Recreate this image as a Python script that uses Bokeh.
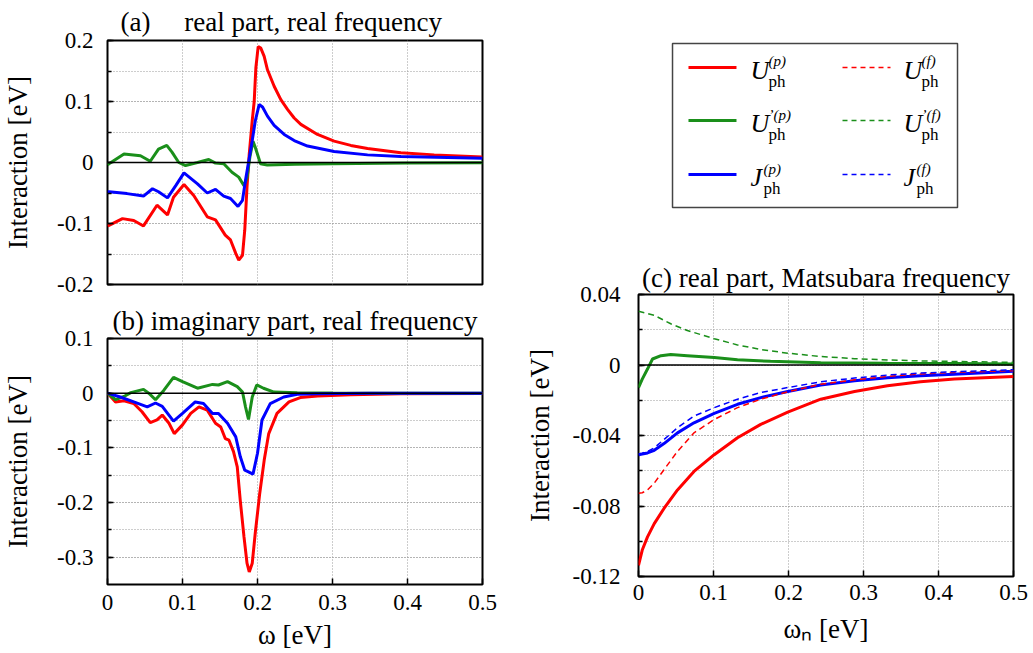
from bokeh.plotting import figure
from bokeh.layouts import row, column
from bokeh.models import (Span, Title, SingleIntervalTicker,
                          CustomJSTickFormatter, Range1d)
from bokeh.embed import file_html
from bokeh.resources import INLINE
from bokeh.core.properties import value

FONT = "Liberation Serif"
RED, GREEN, BLUE = "#ff0000", "#1a8f1a", "#0000ff"

# ---------------- panel (a): real part, real frequency ----------------
a_U_x = [0, .002, .020, .035, .048, .066, .080, .088, .102, .115, .133, .144, .157, .164,
         .171, .175, .180, .183, .186, .189, .193, .1956, .1978, .2009, .2044, .2089, .2133,
         .2222, .2311, .24, .2489, .2578, .28, .3022, .3244, .3467, .3911, .4356, .5]
a_U_y = [-0.104, -0.103, -0.092, -0.095, -0.104, -0.070, -0.086, -0.057, -0.036, -0.054,
         -0.089, -0.094, -0.119, -0.127, -0.149, -0.160, -0.152, -0.111, -0.040, 0.014, 0.069,
         0.10, 0.155, 0.190, 0.1875, 0.174, 0.152, 0.125, 0.103, 0.087, 0.073, 0.0625, 0.046,
         0.035, 0.028, 0.023, 0.016, 0.0125, 0.0092]

a_Up_x = [0, .002, .022, .044, .057, .068, .079, .086, .095, .104, .120, .135, .144, .155,
          .166, .175, .182, .186, .190, .194, .197, .204, .213, .25, .3, .4, .5]
a_Up_y = [-0.004, -0.002, 0.014, 0.011, 0.002, 0.022, 0.028, 0.017, 0.0, -0.005, 0.0, 0.005,
          -0.001, -0.002, -0.016, -0.024, -0.038, -0.025, 0.010, 0.035, 0.025, -0.002, -0.004,
          -0.003, -0.002, -0.001, -0.0005]

a_J_x = [0, .002, .026, .048, .060, .068, .080, .091, .102, .120, .133, .144, .155, .164,
         .174, .180, .184, .188, .193, .197, .2022, .2067, .2133, .2222, .2356, .2489, .2667,
         .3022, .3467, .3911, .5]
a_J_y = [-0.048, -0.048, -0.051, -0.055, -0.043, -0.048, -0.058, -0.038, -0.017, -0.035,
         -0.050, -0.044, -0.055, -0.059, -0.072, -0.062, -0.029, 0.0, 0.036, 0.068, 0.095,
         0.091, 0.076, 0.061, 0.046, 0.036, 0.027, 0.018, 0.0125, 0.0098, 0.007]

# ---------------- panel (b): imaginary part, real frequency ----------------
b_U_x = [0, .0107, .022, .035, .046, .057, .066, .073, .082, .089, .1, .111, .122, .133,
         .144, .151, .157, .162, .168, .173, .177, .182, .186, .189, .193, .197, .203, .209,
         .215, .226, .242, .257, .28, .3244, .3911, .5]
b_U_y = [0, -0.016, -0.014, -0.019, -0.034, -0.054, -0.049, -0.040, -0.055, -0.074, -0.058,
         -0.037, -0.025, -0.031, -0.055, -0.062, -0.083, -0.086, -0.107, -0.135, -0.196,
         -0.263, -0.311, -0.327, -0.311, -0.256, -0.183, -0.122, -0.074, -0.037, -0.016,
         -0.008, -0.005, -0.003, -0.001, -0.0005]

b_Up_x = [0, .011, .022, .031, .048, .055, .064, .075, .088, .1, .12, .14, .148, .16, .173,
          .180, .184, .188, .193, .199, .208, .222, .253, .3, .5]
b_Up_y = [0, -0.012, -0.006, 0.001, 0.007, 0.0, -0.012, 0.005, 0.029, 0.021, 0.009, 0.016,
          0.015, 0.021, 0.012, 0.002, -0.025, -0.048, -0.007, 0.015, 0.009, 0.002, 0.0007,
          0.0002, 0.0]

b_J_x = [0, .017, .035, .053, .064, .073, .088, .1, .117, .128, .140, .148, .160, .171, .177,
         .183, .188, .194, .200, .206, .217, .235, .253, .28, .35, .5]
b_J_y = [0, -0.007, -0.016, -0.025, -0.018, -0.024, -0.051, -0.037, -0.016, -0.019, -0.037,
         -0.037, -0.055, -0.080, -0.116, -0.141, -0.144, -0.148, -0.110, -0.049, -0.019,
         -0.007, -0.002, -0.001, -0.0003, 0.0]

# ---------------- panel (c): real part, Matsubara frequency ----------------
c_x = [0, .005, .012, .021, .034, .052, .074, .101, .132, .163, .199, .243, .288, .332,
       .376, .421, .5]
c_Up_solid = [-0.1137, -0.105, -0.0975, -0.090, -0.0814, -0.0709, -0.0604, -0.0509, -0.0413,
              -0.0337, -0.0267, -0.0194, -0.0150, -0.0118, -0.0095, -0.0080, -0.0065]
c_Jp_solid = [-0.0509, -0.0505, -0.0499, -0.0484, -0.0446, -0.0385, -0.0328, -0.0274,
              -0.0223, -0.0185, -0.0150, -0.0114, -0.0090, -0.0072, -0.0061, -0.0052, -0.0036]
c_Uf_dash = [-0.0728, -0.0725, -0.0709, -0.0670, -0.0594, -0.0490, -0.0385, -0.0309, -0.0242,
             -0.0194, -0.0152, -0.0109, -0.0084, -0.0065, -0.0051, -0.0042, -0.0032]
c_Jf_dash = [-0.0505, -0.0500, -0.0490, -0.0470, -0.0423, -0.0356, -0.0290, -0.0242, -0.0194,
             -0.0156, -0.0128, -0.0095, -0.0074, -0.0057, -0.0046, -0.0038, -0.0027]

c_g_x = [0, .005, .012, .0187, .030, .043, .065, .101, .132, .176, .243, .332, .421, .5]
c_Upp_solid = [-0.0128, -0.0080, -0.0023, 0.0034, 0.0053, 0.0059, 0.0053, 0.0042, 0.0030,
               0.0021, 0.0013, 0.0010, 0.0008, 0.0006]
c_gd_x = [0, .021, .043, .065, .101, .132, .163, .199, .243, .288, .332, .376, .5]
c_Upf_dash = [0.0305, 0.0282, 0.0234, 0.0196, 0.0149, 0.0114, 0.0088, 0.0067, 0.0048, 0.0036,
              0.0029, 0.0023, 0.0015]

# legend texts
leg_main = ["U", "U", "J"]
leg_sup_p = ["(p)", "\u2019(p)", "(p)"]
leg_sup_f = ["(f)", "\u2019(f)", "(f)"]
leg_colors = [RED, GREEN, BLUE]

fmt_code = "return String(Number(tick.toFixed(3)));"

TICK_FS = "23px"
LABEL_FS = "27px"
TITLE_FS = "27px"


def make_fig(w, h, bl, br, bt, bb, yr, yint, xlabel_text=None, ylabel_standoff=21,
             show_xaxis=True, ytick_standoff=14, xtick_standoff=10, xlab_standoff=7):
    p = figure(width=w, height=h, x_range=Range1d(0, 0.5), y_range=Range1d(*yr),
               output_backend="svg", toolbar_location=None,
               min_border_left=bl, min_border_right=br, min_border_top=bt,
               min_border_bottom=bb)
    p.outline_line_color = "black"
    p.outline_line_width = 2
    p.outline_line_alpha = 1
    p.background_fill_color = "white"
    p.border_fill_color = "white"

    xt = SingleIntervalTicker(interval=0.1, num_minor_ticks=0)
    yt = SingleIntervalTicker(interval=yint, num_minor_ticks=2)

    p.xaxis.ticker = xt
    p.yaxis.ticker = yt
    p.xgrid.ticker = xt
    p.ygrid.ticker = yt
    for g in (p.xgrid, p.ygrid):
        g.grid_line_color = "#9a9a9a"
        g.grid_line_dash = "1 2"
        g.grid_line_width = 1
    p.ygrid.minor_grid_line_color = "#9a9a9a"
    p.ygrid.minor_grid_line_dash = "1 2"
    p.ygrid.minor_grid_line_width = 1

    for ax in list(p.xaxis) + list(p.yaxis):
        ax.axis_line_color = None
        ax.major_tick_in = 6
        ax.major_tick_out = 0
        ax.minor_tick_in = 4
        ax.minor_tick_out = 0
        ax.major_tick_line_color = "black"
        ax.major_tick_line_width = 1.5
        ax.minor_tick_line_color = "black"
        ax.minor_tick_line_width = 1.5
        ax.major_label_text_font = FONT
        ax.major_label_text_font_size = TICK_FS
        ax.major_label_text_color = "black"
        ax.axis_label_text_font = FONT
        ax.axis_label_text_font_size = LABEL_FS
        ax.axis_label_text_font_style = "normal"
        ax.axis_label_text_color = "black"
        ax.formatter = CustomJSTickFormatter(code=fmt_code)
    p.xaxis.minor_tick_line_color = None

    p.yaxis.axis_label = "Interaction [eV]"
    p.yaxis.major_label_standoff = ytick_standoff
    p.yaxis.axis_label_standoff = ylabel_standoff
    if show_xaxis:
        p.xaxis.major_label_standoff = xtick_standoff
        p.xaxis.axis_label = xlabel_text
        p.xaxis.axis_label_standoff = xlab_standoff
    else:
        p.xaxis.visible = False
    return p


def zero_line(p):
    p.add_layout(Span(location=0, dimension="width", line_color="black", line_width=1.5))


def add_title(p, text, align, offset, standoff):
    p.add_layout(Title(text=text, align=align, offset=offset, standoff=standoff,
                       text_font=FONT, text_font_size=TITLE_FS, text_font_style="normal",
                       text_color="black"), "above")


NB = "\u00a0"

# ---- (a)
pa = make_fig(515, 297, 107, 33, 39, 13, (-0.2, 0.2), 0.1, show_xaxis=False)
pa.line(a_U_x, a_U_y, line_color=RED, line_width=3)
pa.line(a_Up_x, a_Up_y, line_color=GREEN, line_width=3)
pa.line(a_J_x, a_J_y, line_color=BLUE, line_width=3)
zero_line(pa)
add_title(pa, "(a)" + NB * 5 + "real part, real frequency", "left", 13, 8)

# ---- (b)
pb = make_fig(515, 356, 107, 33, 41, 69, (-0.35, 0.1), 0.1, xlabel_text="\u03c9 [eV]")
pb.line(b_U_x, b_U_y, line_color=RED, line_width=3)
pb.line(b_Up_x, b_Up_y, line_color=GREEN, line_width=3)
pb.line(b_J_x, b_J_y, line_color=BLUE, line_width=3)
zero_line(pb)
add_title(pb, "(b) imaginary part, real frequency", "center", 0, 6)

# ---- legend panel (same horizontal borders as panel (c), drawn in frame coords)
pl = figure(width=518, height=255, x_range=Range1d(0, 1), y_range=Range1d(0, 1),
            x_axis_type=None, y_axis_type=None, output_backend="svg",
            toolbar_location=None, min_border_left=123, min_border_right=20,
            min_border_top=0, min_border_bottom=0)
pl.outline_line_color = None
pl.background_fill_color = "white"
pl.border_fill_color = "white"
pl.grid.visible = False
pl.quad(left=[0.0907], right=[0.8507], bottom=[0.1882], top=[0.8314],
        fill_color=None, line_color="#444444", line_width=1.5)
rows_y = [0.7373, 0.5294, 0.3176]
for i in range(3):
    yy = rows_y[i]
    c = leg_colors[i]
    pl.line([0.1333, 0.2613], [yy, yy], line_color=c, line_width=3)
    pl.line([0.544, 0.672], [yy, yy], line_color=c, line_width=1.5, line_dash="5 4")
    off = 18 if leg_main[i] == "U" else 13
    for xt_, sup in ((0.2987, leg_sup_p[i]), (0.7067, leg_sup_f[i])):
        pl.text(x=[xt_], y=[yy], text=[leg_main[i]], text_font=value(FONT),
                text_font_size="26px", text_font_style="italic", text_baseline="middle",
                text_align="left", y_offset=3, text_color="black")
        pl.text(x=[xt_], y=[yy], text=[sup], text_font=value(FONT),
                text_font_size="15px", text_font_style="italic", text_baseline="middle",
                text_align="left", x_offset=off, y_offset=-6, text_color="black")
        pl.text(x=[xt_], y=[yy], text=["ph"], text_font=value(FONT),
                text_font_size="17px", text_baseline="middle",
                text_align="left", x_offset=off, y_offset=14, text_color="black")

# ---- (c)
pc = make_fig(518, 398, 123, 20, 39, 77, (-0.12, 0.04), 0.04,
              xlabel_text="\u03c9\u2099 [eV]", ylabel_standoff=15, ytick_standoff=18,
              xtick_standoff=8, xlab_standoff=11)
pc.line(c_x, c_Up_solid, line_color=RED, line_width=3)
pc.line(c_g_x, c_Upp_solid, line_color=GREEN, line_width=3)
pc.line(c_x, c_Jp_solid, line_color=BLUE, line_width=3)
pc.line(c_x, c_Uf_dash, line_color=RED, line_width=1.5, line_dash="6 4")
pc.line(c_gd_x, c_Upf_dash, line_color=GREEN, line_width=1.5, line_dash="6 4")
pc.line(c_x, c_Jf_dash, line_color=BLUE, line_width=1.5, line_dash="6 4")
zero_line(pc)
add_title(pc, "(c) real part, Matsubara frequency", "center", 0, 4)

layout = row(column(pa, pb), column(pl, pc))
open("out.html", "w").write(file_html(layout, INLINE))
